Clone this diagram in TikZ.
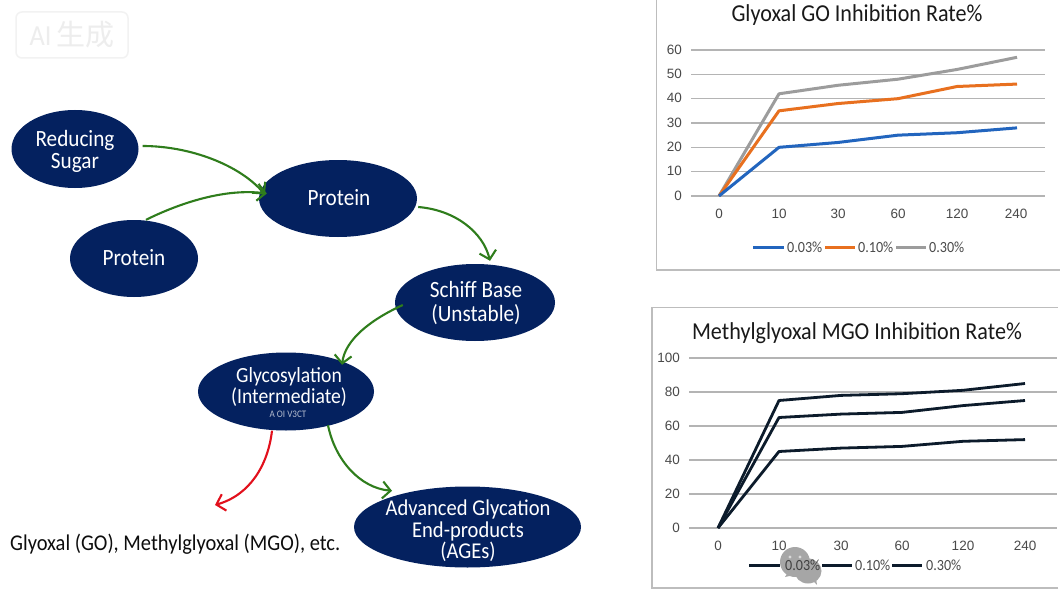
\documentclass[tikz,border=0pt]{standalone}
\usepackage{fontspec}
\setmainfont[FakeStretch=0.91]{Carlito}
\newfontfamily\cjkfont{Noto Sans CJK SC}
\newfontfamily\tickfont{Liberation Sans}
\usetikzlibrary{shapes.geometric,arrows.meta}
\definecolor{navy}{HTML}{04215F}
\definecolor{flowgreen}{HTML}{2F7D1C}
\definecolor{flowred}{HTML}{E2101C}
\definecolor{gridgrey}{HTML}{B4B4B4}
\definecolor{framegrey}{HTML}{BDBDBD}
\definecolor{tickgrey}{HTML}{4A4A4A}
\definecolor{serblue}{HTML}{2265BE}
\definecolor{serorange}{HTML}{E8701F}
\definecolor{sergrey}{HTML}{9C9C9C}
\definecolor{serdark}{HTML}{0C1B2B}
\newcommand{\fs}[1]{\fontsize{#1}{#1}\selectfont}
\tikzset{
  x=1pt,y=-1pt,
  blob/.style={ellipse,fill=navy,text=white,inner sep=0pt,align=center},
  blobtext/.style={text=white,align=center,inner sep=0pt,font=\fs{23.3}},
  flow/.style={line width=2.1pt,draw=flowgreen,-{Straight Barb[length=8pt,width=17pt,line width=2.1pt]}},
  flowbad/.style={flow,draw=flowred},
  gridln/.style={line width=1.2pt,draw=gridgrey},
  framebox/.style={line width=1.6pt,draw=framegrey},
  tick/.style={text=tickgrey,font=\tickfont\fs{13.5},inner sep=0pt},
  title/.style={text=black!90,font=\fs{24.3},inner sep=0pt},
  legtxt/.style={text=tickgrey,font=\fs{15.5},inner sep=0pt},
  serA/.style={line width=3pt,draw=#1,line join=round},
  serB/.style={line width=2.8pt,draw=serdark,line join=round},
  declare function={ya(\v)=196-2.4333*\v; yb(\v)=528-1.70*\v;}
}
\begin{document}
\begin{tikzpicture}
\useasboundingbox (0,0) rectangle (1060,591);
\fill[white] (0,0) rectangle (1060,591);

% faint tag top left
\draw[black!5,line width=1.5pt,rounded corners=6pt] (16,12) rectangle (128,58);
\node[text=black!7,font=\fs{29},inner sep=0pt] (tag) at (72,35) {AI\,{\cjkfont 生成}};

% flow nodes
\node[blob,minimum width=127pt,minimum height=78pt] (sugar) at (75,149) {};
\node[blobtext] (sugart) at (75,151.5) {Reducing\\[-0.5pt]Sugar};
\node[blob,minimum width=158pt,minimum height=77pt] (prot) at (338,198.5) {};
\node[blobtext] (prott) at (339,198) {Protein};
\node[blob,minimum width=128pt,minimum height=77pt] (protb) at (134,258.5) {};
\node[blobtext] (protbt) at (134,258) {Protein};
\node[blob,minimum width=160pt,minimum height=77pt] (schiff) at (475,302.5) {};
\node[blobtext] (schifft) at (476,303) {Schiff Base\\[1pt](Unstable)};
\node[blob,minimum width=176pt,minimum height=78pt] (glyco) at (286,391.5) {};
\node[blobtext,font=\fs{21.6}] (glycot) at (289,387) {Glycosylation\\[-1pt](Intermediate)};
\node[text=white!70!navy,font=\fs{10},inner sep=0pt] (glycos) at (288,414) {A OI V3CT};
\node[blob,minimum width=227pt,minimum height=81pt] (age) at (467.5,527) {};
\node[blobtext,font=\fs{22.6}] (aget) at (468,531) {Advanced Glycation\\[-1pt]End-products\\[-1pt](AGEs)};
\node[text=black!95,font=\fs{22.5},inner sep=0pt,anchor=west] (prod) at (10,544.5) {Glyoxal (GO), Methylglyoxal (MGO), etc.};
\coordinate (redend) at (215,505);

% connectors
\draw[flow] ([xshift=4pt,yshift=3pt]sugar.east) .. controls (190,146) and (240,165) .. ([xshift=6pt,yshift=4pt]prot.west);
\draw[flow] ([xshift=12pt]protb.north) .. controls (180,203) and (225,188) .. ([xshift=8pt,yshift=5pt]prot.west);
\draw[flow] ([xshift=1pt,yshift=-8.5pt]prot.east) .. controls (455,210) and (483,232) .. ([xshift=15pt,yshift=3pt]schiff.north);
\draw[flow] ([xshift=8pt,yshift=-2.5pt]schiff.west) .. controls (370,320) and (345,340) .. ([xshift=56pt,yshift=-12.5pt]glyco.north);
\draw[flowbad] ([xshift=-14pt]glyco.south) .. controls (268,465) and (250,495) .. (redend);
\draw[flow] ([xshift=42pt,yshift=5.5pt]glyco.south) .. controls (335,460) and (360,488) .. ([xshift=-75.5pt,yshift=-4.5pt]age.north);

% chart 1
\draw[framebox] (1060,270) -- (656.5,270) -- (656.5,-2);
\node[title] (t1) at (857,15) {Glyoxal GO Inhibition Rate\%};
\foreach \v in {0,10,...,60}{
  \draw[gridln] (691,{ya(\v)}) -- (1045,{ya(\v)});
  \node[tick,anchor=east] (ya\v) at (682,{ya(\v)-0.5}) {\v};
}
\foreach \l/\px in {0/719,10/779,30/838,60/898,120/957,240/1016}{
  \node[tick] (xa\l) at (\px,214) {\l};
}
\draw[serA=sergrey] (719,196) -- (779,{ya(42)}) -- (838,{ya(45.5)}) -- (898,{ya(48)}) -- (957,{ya(52)}) -- (1017,{ya(57)});
\draw[serA=serorange] (719,196) -- (779,{ya(35)}) -- (838,{ya(38)}) -- (898,{ya(40)}) -- (957,{ya(45)}) -- (1017,{ya(46)});
\draw[serA=serblue] (719,196) -- (779,{ya(20)}) -- (838,{ya(22)}) -- (898,{ya(25)}) -- (957,{ya(26)}) -- (1017,{ya(28)});
\draw[serA=serblue] (753,247.5) -- (784,247.5);
\draw[serA=serorange] (825,247.5) -- (855,247.5);
\draw[serA=sergrey] (896,247.5) -- (926,247.5);
\node[legtxt,anchor=west] (la1) at (787,247.5) {0.03\%};
\node[legtxt,anchor=west] (la2) at (858,247.5) {0.10\%};
\node[legtxt,anchor=west] (la3) at (929,247.5) {0.30\%};

% chart 2
\draw[framebox] (1058,588) -- (652,588) -- (652,307.5) -- (1058,307.5);
\node[title] (t2) at (857,333) {Methylglyoxal MGO Inhibition Rate\%};
\foreach \v in {0,20,...,100}{
  \draw[gridln] (689,{yb(\v)}) -- (1057,{yb(\v)});
  \node[tick,anchor=east] (yb\v) at (680,{yb(\v)-0.5}) {\v};
}
\foreach \l/\px in {0/718,10/779,30/841,60/902,120/963,240/1025}{
  \node[tick] (xb\l) at (\px,546) {\l};
}
\draw[serB] (718,528) -- (779,{yb(75)}) -- (841,{yb(78)}) -- (902,{yb(79)}) -- (963,{yb(81)}) -- (1025,{yb(85)});
\draw[serB] (718,528) -- (779,{yb(65)}) -- (841,{yb(67)}) -- (902,{yb(68)}) -- (963,{yb(72)}) -- (1025,{yb(75)});
\draw[serB] (718,528) -- (779,{yb(45)}) -- (841,{yb(47)}) -- (902,{yb(48)}) -- (963,{yb(51)}) -- (1025,{yb(52)});
% chat badge
\fill[black!35] (795,562) ellipse (15pt and 15pt);
\fill[black!35] (788,572) -- (785,577) -- (794,575) -- cycle;
\fill[black!35] (808,571) ellipse (13.5pt and 12.5pt);
\fill[black!35] (812,580) -- (817,585) -- (816,578) -- cycle;
\fill[white!85!black] (790,557) circle (1.6pt) (800,557) circle (1.6pt);
\draw[serB] (749,565.5) -- (780,565.5);
\draw[serB] (822,565.5) -- (852,565.5);
\draw[serB] (892,565.5) -- (922,565.5);
\node[legtxt,anchor=west,text=black!75] (lb1) at (785,565.5) {0.03\%};
\node[legtxt,anchor=west] (lb2) at (855,565.5) {0.10\%};
\node[legtxt,anchor=west] (lb3) at (926,565.5) {0.30\%};
\end{tikzpicture}
\end{document}
